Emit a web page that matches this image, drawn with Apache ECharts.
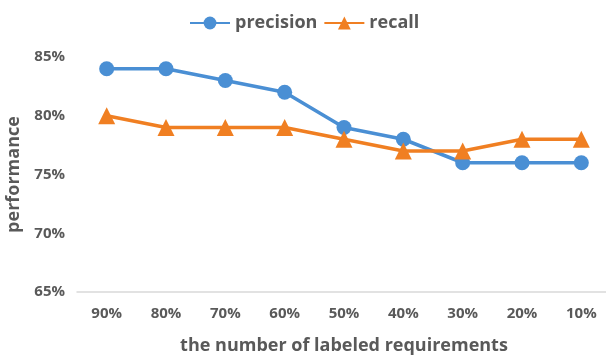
<!DOCTYPE html>
<html>
<head>
<meta charset="utf-8">
<script src="https://cdn.jsdelivr.net/npm/echarts@6/dist/echarts.min.js"></script>
<style>
    html, body { margin: 0; padding: 0; background: #fff; }
    #chart { width: 606px; height: 356px; }
</style>
</head>
<body>
<div id="chart"></div>
<script>
const categories = ["90%", "80%", "70%", "60%", "50%", "40%", "30%", "20%", "10%"]
const precision  = [84, 84, 83, 82, 79, 78, 76, 76, 76]
const recall     = [80, 79, 79, 79, 78, 77, 77, 78, 78]

const textColor = "#595959"
const font = "Open Sans"

const chart = echarts.init(document.getElementById("chart"))
chart.setOption({
    animation: false,
    textStyle: { fontFamily: font },
    legend: {
        top: 9,
        left: 184,
        itemWidth: 40,
        itemHeight: 16,
        itemGap: 6,
        textStyle: { fontSize: 18, fontWeight: "bold", color: textColor, fontFamily: font },
        data: ["precision", "recall"],
    },
    grid: { left: 77, right: -5, top: 57, bottom: 64, outerBoundsMode: "none", containLabel: false },
    xAxis: {
        type: "category",
        data: categories,
        boundaryGap: true,
        axisLine: { lineStyle: { color: "#d9d9d9", width: 1.5 } },
        axisTick: { show: false },
        axisLabel: { color: textColor, fontSize: 15, fontWeight: "bold", margin: 14 },
        name: "the number of labeled requirements",
        nameLocation: "middle",
        nameGap: 45,
        nameTextStyle: { color: textColor, fontSize: 18, fontWeight: "bold" },
    },
    yAxis: {
        type: "value",
        min: 65,
        max: 85,
        interval: 5,
        axisLine: { show: false },
        axisTick: { show: false },
        splitLine: { show: false },
        axisLabel: {
            color: textColor, fontSize: 15, fontWeight: "bold", margin: 12,
            formatter: v => v + "%",
        },
        name: "performance",
        nameLocation: "middle",
        nameGap: 54,
        nameTextStyle: { color: textColor, fontSize: 18, fontWeight: "bold" },
    },
    series: [
        {
            name: "precision",
            type: "line",
            data: precision,
            symbol: "circle",
            symbolSize: 15,
            color: "#4a8fd4",
            lineStyle: { width: 3.5 },
        },
        {
            name: "recall",
            type: "line",
            data: recall,
            symbol: "triangle",
            symbolSize: 17,
            color: "#f07f22",
            lineStyle: { width: 3.5 },
        },
    ],
})
</script>
</body>
</html>
